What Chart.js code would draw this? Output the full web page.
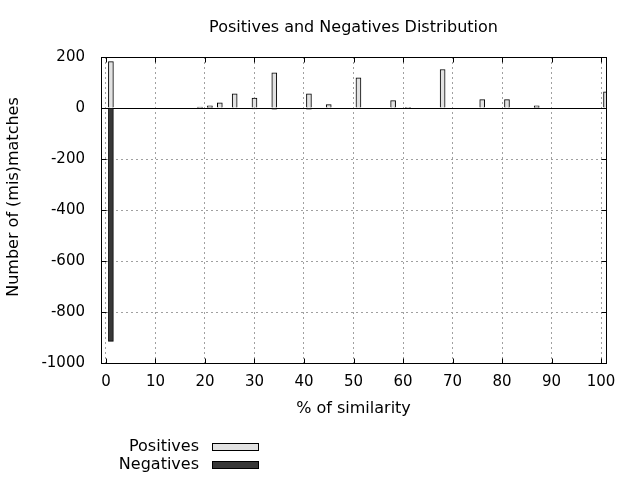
<!DOCTYPE html>
<html>
<head>
<meta charset="utf-8">
<script src="https://cdn.jsdelivr.net/npm/chart.js@4/dist/chart.umd.min.js"></script>
<style>
  html, body { margin: 0; padding: 0; background: #fff; }
  canvas { display: block; }
</style>
</head>
<body>
<canvas id="distribucion" width="640" height="480"></canvas>
<script>
// datos
const similarity = [1, 19, 21, 23, 26, 30, 34, 41, 45, 51, 58, 61, 68, 76, 81, 87, 101];
const positives  = [182, 4, 9, 20, 56, 39, 138, 56, 13, 118, 29, 3, 151, 33, 33, 9, 63];
const negatives  = [-915, 0, 0, 0, 0, -4, -5, -5, 0, 0, 0, 0, 0, 0, 0, 0, 0];
const xTicks = [0, 10, 20, 30, 40, 50, 60, 70, 80, 90, 100];
const yTicks = [-1000, -800, -600, -400, -200, 0, 200];
const seriesNames = ['Positives', 'Negatives'];

const POS_COLOR = '#e2e2e2';
const NEG_COLOR = '#383838';
const GRID_COLOR = '#a0a0a0';
const FONT = 'DejaVu Sans';

Chart.defaults.font.family = FONT;
Chart.defaults.color = '#000';

// marco, eje cero, marcas interiores, etiqueta Y y leyenda al estilo gnuplot
const gnuplotFrame = {
    id: 'gnuplotFrame',
    beforeDatasetsDraw(chart) {
        const { ctx, chartArea: a, scales } = chart;
        const y0 = Math.round(scales.y.getPixelForValue(0)) + 0.5;
        ctx.save();
        ctx.strokeStyle = '#000';
        ctx.lineWidth = 1;
        ctx.beginPath();
        ctx.moveTo(a.left, y0);
        ctx.lineTo(a.right, y0);
        ctx.stroke();
        ctx.restore();
    },
    afterDatasetsDraw(chart) {
        const { ctx, chartArea: a, scales } = chart;
        const L = Math.round(a.left) + 0.5, R = Math.round(a.right) + 0.5;
        const T = Math.round(a.top) + 0.5, B = Math.round(a.bottom) + 0.5;
        ctx.save();
        ctx.strokeStyle = '#000';
        ctx.lineWidth = 1;
        ctx.strokeRect(L, T, R - L, B - T);
        ctx.beginPath();
        xTicks.forEach(v => {
            const px = Math.round(scales.x.getPixelForValue(v)) + 0.5;
            ctx.moveTo(px, B); ctx.lineTo(px, B - 5);
            ctx.moveTo(px, T); ctx.lineTo(px, T + 5);
        });
        yTicks.forEach(v => {
            const py = Math.round(scales.y.getPixelForValue(v)) + 0.5;
            ctx.moveTo(L, py); ctx.lineTo(L + 5, py);
            ctx.moveTo(R, py); ctx.lineTo(R - 5, py);
        });
        ctx.stroke();

        // etiqueta del eje Y
        ctx.fillStyle = '#000';
        ctx.font = '16px "' + FONT + '"';
        ctx.save();
        ctx.translate(14, 197);
        ctx.rotate(-Math.PI / 2);
        ctx.textAlign = 'center';
        ctx.textBaseline = 'middle';
        ctx.fillText('Number of (mis)matches', 0, 0);
        ctx.restore();

        // leyenda
        const rows = [447, 465];
        chart.data.datasets.forEach((ds, i) => {
            ctx.textAlign = 'right';
            ctx.textBaseline = 'middle';
            ctx.fillStyle = '#000';
            ctx.fillText(ds.label, 199, rows[i]);
            ctx.fillStyle = ds.backgroundColor;
            ctx.fillRect(212, rows[i] - 3.5, 47, 7);
            ctx.strokeRect(212.5, rows[i] - 3.5, 46, 7);
        });
        ctx.restore();
    }
};

const ctx = document.getElementById('distribucion');

new Chart(ctx, {
    type: 'bar',
    data: {
        datasets: [{
            label: seriesNames[0],
            data: similarity.map((x, i) => ({ x: x, y: positives[i] })),
            backgroundColor: POS_COLOR,
            borderColor: '#000',
            borderWidth: 1,
            barThickness: 5,
            grouped: false
        }, {
            label: seriesNames[1],
            data: similarity.map((x, i) => ({ x: x, y: negatives[i] })),
            backgroundColor: NEG_COLOR,
            borderColor: '#000',
            borderWidth: 1,
            barThickness: 5,
            grouped: false
        }]
    },
    options: {
        responsive: false,
        animation: false,
        layout: { padding: { left: 0, right: 34, top: 0, bottom: 60 } },
        plugins: {
            legend: { display: false },
            tooltip: { enabled: false },
            title: {
                display: true,
                text: 'Positives and Negatives Distribution',
                fullSize: false,
                color: '#000',
                font: { size: 16, weight: 'normal' },
                padding: { top: 18.5, bottom: 19.3 }
            }
        },
        scales: {
            x: {
                type: 'linear',
                min: -1,
                max: 101,
                offset: false,
                afterBuildTicks: (scale) => { scale.ticks = xTicks.map(v => ({ value: v })); },
                afterFit: (scale) => { scale.height = 57; },
                ticks: { font: { size: 15 }, padding: 10, maxRotation: 0, autoSkip: false },
                grid: { color: GRID_COLOR, drawTicks: false, lineWidth: 1, offset: false },
                border: { display: false, dash: [2, 3] },
                title: {
                    display: true,
                    text: '% of similarity',
                    font: { size: 16 },
                    padding: { top: 0, bottom: 2 }
                }
            },
            y: {
                min: -1000,
                max: 200,
                afterBuildTicks: (scale) => { scale.ticks = yTicks.map(v => ({ value: v })); },
                afterFit: (scale) => { scale.width = 101; },
                ticks: { font: { size: 15 }, padding: 16, callback: (v) => String(v) },
                grid: {
                    color: (c) => (c.tick && c.tick.value === 0) ? 'rgba(0,0,0,0)' : GRID_COLOR,
                    drawTicks: false,
                    lineWidth: 1
                },
                border: { display: false, dash: [2, 3] }
            }
        }
    },
    plugins: [gnuplotFrame]
});
</script>
</body>
</html>
